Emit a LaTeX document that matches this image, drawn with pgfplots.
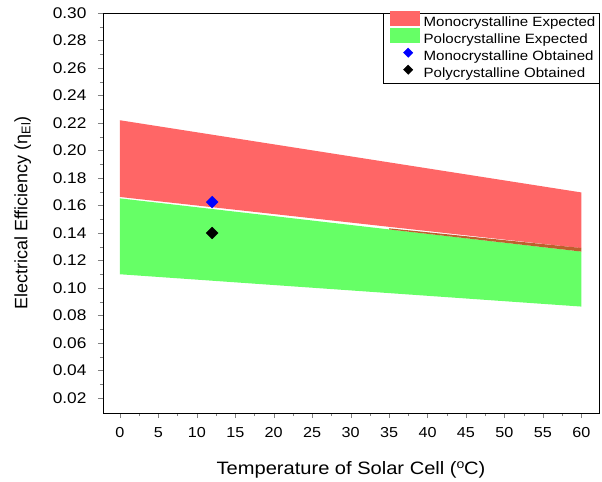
\documentclass[border=0pt]{standalone}
\usepackage{pgfplots}
\pgfplotsset{compat=1.18}
\usepackage{fontspec}
\setmainfont{Liberation Sans}[FakeStretch=1.12]
\newfontfamily\ylabfont{Liberation Sans}
\definecolor{monored}{RGB}{255,102,102}
\definecolor{polygreen}{RGB}{102,255,102}
\definecolor{overlap}{RGB}{190,95,45}
\begin{document}
\begin{tikzpicture}
\useasboundingbox (-103bp,-69bp) rectangle (499bp,413bp);
\begin{axis}[
  at={(0,0)}, anchor=south west,
  scale only axis, width=496bp, height=400bp,
  xmin=-2.2, xmax=62.3, ymin=0.0091, ymax=0.30,
  xtick={0,5,...,60},
  ytick={0.02,0.04,...,0.301},
  minor x tick num=1, minor y tick num=1,
  tick align=outside,
  xtick pos=bottom, ytick pos=left,
  major tick length=5bp, minor tick length=3bp,
  /pgf/number format/assume math mode=true,
  y tick label style={font=\fontsize{15.5}{16}\selectfont, xshift=-8bp},
  yticklabel style={/pgf/number format/.cd, fixed, fixed zerofill, precision=2},
  x tick label style={font=\fontsize{14.5}{16}\selectfont, yshift=-6bp},
  xlabel={Temperature of Solar Cell ($^{\mathrm{o}}$C)},
  ylabel={\ylabfont Electrical Efficiency (η\textsubscript{El})},
  label style={font=\fontsize{18}{20}\selectfont},
  xlabel style={yshift=-17bp},
  ylabel style={yshift=15bp},
  legend style={at={(1,1)}, anchor=north east, draw=black, font=\fontsize{13.5}{14}\selectfont,
    row sep=0bp, inner xsep=7bp, inner ysep=1bp, cells={anchor=west},
    nodes={text height=10bp, text depth=3bp, inner ysep=2bp, inner xsep=2.5bp}},
  legend cell align=left,
]
\addplot[fill=monored, draw=none, area legend,
  legend image code/.code={\path[draw=none,fill=none] (0bp,0bp) rectangle (30bp,8bp); \fill[monored, overlay] (0bp,-3.5bp) rectangle (30bp,12bp);}]
  coordinates {(0,0.2220) (60,0.1695) (60,0.1290) (0,0.1662)};
\addlegendentry{\hspace*{1bp}Monocrystalline Expected\hspace*{-6bp}}
\addplot[fill=polygreen, draw=none, area legend,
  legend image code/.code={\path[draw=none,fill=none] (0bp,0bp) rectangle (30bp,8bp); \fill[polygreen, overlay] (0bp,-3.5bp) rectangle (30bp,12bp);}]
  coordinates {(0,0.1652) (60,0.1265) (60,0.0865) (0,0.1100)};
\addlegendentry{\hspace*{1bp}Polocrystalline Expected\hspace*{-6bp}}
\addplot[only marks, mark=square*, mark size=4.2bp, mark options={rotate=45, fill=blue, draw=blue},
  legend image code/.code={\path[draw=none,fill=none] (0bp,0bp) rectangle (30bp,8bp); \fill[blue, overlay, shift={(18bp,4bp)}, rotate=45] (-3.3bp,-3.3bp) rectangle (3.3bp,3.3bp);}]
  coordinates {(12,0.1625)};
\addlegendentry{\hspace*{1bp}Monocrystalline Obtained\hspace*{-6bp}}
\addplot[only marks, mark=square*, mark size=4.2bp, mark options={rotate=45, fill=black, draw=black},
  legend image code/.code={\path[draw=none,fill=none] (0bp,0bp) rectangle (30bp,8bp); \fill[black, overlay, shift={(18bp,4bp)}, rotate=45] (-3.3bp,-3.3bp) rectangle (3.3bp,3.3bp);}]
  coordinates {(12,0.1400)};
\addlegendentry{\hspace*{1bp}Polycrystalline Obtained\hspace*{-6bp}}
\addplot[fill=overlap, draw=none, forget plot]
  coordinates {(35,0.1426) (60,0.1265) (60,0.1291) (35,0.1434)};
\end{axis}
\end{tikzpicture}
\end{document}
